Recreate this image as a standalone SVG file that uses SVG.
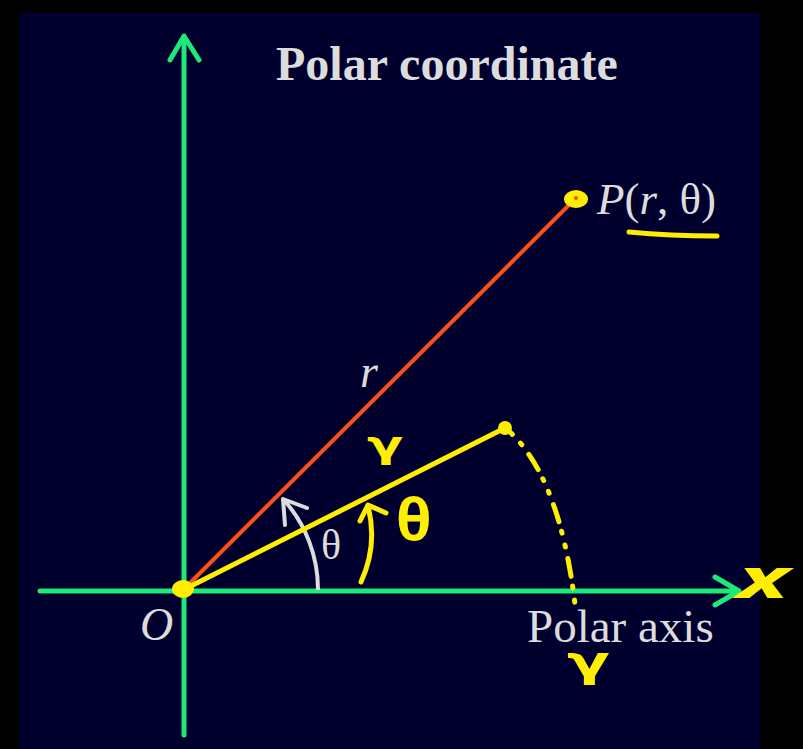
<svg xmlns="http://www.w3.org/2000/svg" width="803" height="749" viewBox="0 0 803 749">
<defs>
<style>
.axis{stroke:#1fe87a;stroke-width:5;fill:none;stroke-linecap:round;stroke-linejoin:round}
.ink{stroke:#ffee00;fill:none;stroke-linecap:round;stroke-linejoin:round}
.lbl{font-family:"Liberation Serif","Times New Roman",serif;fill:#dcdcdc}
.it{font-style:italic}
.hand{font-family:"Noto Sans","DejaVu Sans",sans-serif;fill:#ffee00;font-weight:bold}
.loop{font-family:"DejaVu Sans",sans-serif;fill:#ffee00;font-weight:bold}
</style>
</defs>
<rect x="0" y="0" width="803" height="749" fill="#000000"/>
<rect x="19" y="13" width="741" height="736" fill="#00002e"/>
<g id="connectors">
<g id="y-axis"><line class="axis" x1="184" y1="735" x2="184" y2="37"/><polyline class="axis" points="170,60 184,36 199,60"/></g>
<g id="x-axis"><line class="axis" x1="40" y1="591" x2="738" y2="591"/><polyline class="axis" points="715,577 739,591 715,605"/></g>
<line id="radius" x1="183" y1="590" x2="575" y2="199" stroke="#ff4f14" stroke-width="4"/>
<g id="theta-arc"><path d="M318,590 A135,135 0 0 0 284,500" stroke="#dcdcdc" stroke-width="4" fill="none"/><polyline points="285,525 283,499 307,508" stroke="#dcdcdc" stroke-width="4" fill="none" stroke-linecap="round" stroke-linejoin="round"/></g>
<line id="yellow-radius" class="ink" stroke-width="5" x1="183" y1="590" x2="505" y2="428"/>
<g id="yellow-arc"><path class="ink" stroke-width="5" d="M361,582 Q378,545 368,506"/><polyline class="ink" stroke-width="5" points="360,521 368,505 386,513"/></g>
<path id="yellow-swing" class="ink" stroke-width="5" stroke-dasharray="2 12 2 12 18 10" d="M511,433 Q560,480 575,604"/>
<path id="underline" class="ink" stroke-width="5" d="M629,232 Q670,236 717,236"/>
</g>
<g id="node-O"><ellipse cx="183" cy="589" rx="11" ry="9" fill="#ffee00"/><text class="lbl it" x="140" y="640" font-size="46">O</text></g>
<g id="node-P"><ellipse cx="576" cy="199" rx="12" ry="9" fill="#ffee00"/><circle cx="576" cy="198" r="2" fill="#ff4f14"/><text class="lbl" x="597" y="214" font-size="45"><tspan class="it">P</tspan>(<tspan class="it">r</tspan>, θ)</text></g>
<g id="node-end"><circle cx="505" cy="428" r="7" fill="#ffee00"/></g>
<g id="title"><text class="lbl" x="276" y="80" font-size="48" font-weight="bold">Polar coordinate</text></g>
<g id="labels">
<text class="lbl it" x="360" y="387" font-size="46">r</text>
<text class="lbl" x="321" y="559" font-size="42">θ</text>
<text class="lbl" x="527" y="642" font-size="47">Polar axis</text>
</g>
<g id="annotations">
<text class="loop" transform="translate(367,457) scale(1.4,1)" x="0" y="0" font-size="38">γ</text>
<text class="hand" x="396" y="540" font-size="58">θ</text>
<text class="loop" transform="translate(567,676) scale(1.5,1)" x="0" y="0" font-size="42">γ</text>
<text class="hand" transform="translate(737,598) scale(1.75,1)" x="0" y="0" font-size="56" font-style="italic">x</text>
</g>
</svg>
